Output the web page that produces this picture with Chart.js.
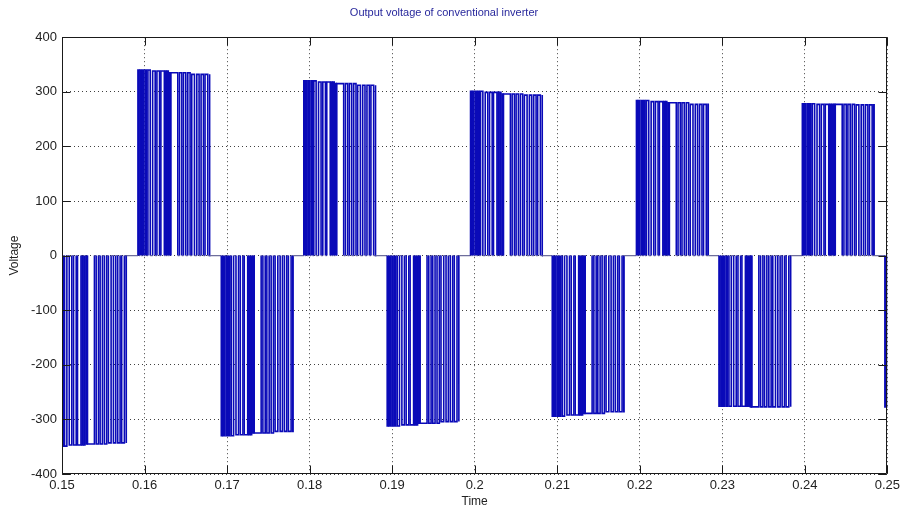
<!DOCTYPE html>
<html>
<head>
<meta charset="utf-8">
<script src="https://cdn.jsdelivr.net/npm/chart.js@4/dist/chart.umd.min.js"></script>
<style>
  html, body { margin: 0; padding: 0; background: #ffffff; }
  canvas { display: block; }
</style>
</head>
<body>
<canvas id="chart" width="904" height="510"></canvas>
<script>
// Start time (s) of each switching half-cycle of the inverter output
const halfStarts = [0.1491, 0.1592, 0.1693, 0.1793, 0.1894, 0.1995, 0.2094, 0.2196, 0.2296, 0.2397, 0.2497];

// DC-link level (V) reached by the pulses in each half-cycle, in four groups of five pulses
const halfLevels = [
  [-349, -347, -345, -343],
  [340, 338, 335, 332],
  [-330, -328, -325, -322],
  [320, 318, 315, 312],
  [-312, -310, -307, -304],
  [301, 299, 296, 294],
  [-294, -292, -289, -286],
  [284, 282, 280, 277],
  [-276, -276, -277, -277],
  [278, 277, 277, 276],
  [-277, -277, -277, -277]
];

// Switching instants (ms after the half-cycle start); the output toggles at each one
const edgeOffsetsMs = [
  0.00, 0.12, 0.24, 0.40, 0.57, 0.72, 0.88, 1.05, 1.21,
  1.49, 1.78, 2.09, 2.30, 2.62, 2.78,
  3.20, 3.32, 3.44, 3.56, 3.68, 3.81, 3.93, 3.99,
  4.83, 5.04, 5.32, 5.52, 5.80, 6.04, 6.32, 6.52, 6.85, 7.13,
  7.41, 7.65, 7.94, 8.13, 8.46, 8.66, 8.70
];

const xTicks = [0.15, 0.16, 0.17, 0.18, 0.19, 0.20, 0.21, 0.22, 0.23, 0.24, 0.25];
const xTickLabels = ['0.15', '0.16', '0.17', '0.18', '0.19', '0.2', '0.21', '0.22', '0.23', '0.24', '0.25'];
const yTicks = [-400, -300, -200, -100, 0, 100, 200, 300, 400];
const yTickLabels = ['-400', '-300', '-200', '-100', '0', '100', '200', '300', '400'];

// Expand one half-cycle into a stepped (vertical-edge) waveform
function halfCyclePoints(start, levels) {
  const pts = [];
  let high = false;
  edgeOffsetsMs.forEach((ms, i) => {
    const t = start + ms / 1000;
    const pulse = Math.floor(i / 2);
    const level = levels[Math.min(levels.length - 1, Math.floor(pulse / 5))];
    const from = high ? level : 0;
    high = !high;
    const to = high ? level : 0;
    pts.push({ x: t, y: from }, { x: t, y: to });
  });
  return pts;
}

const waveform = [];
halfStarts.forEach((s, k) => waveform.push(...halfCyclePoints(s, halfLevels[k])));

const FONT = 'Liberation Sans, Arial, Helvetica, sans-serif';

// Axes box with inward tick marks on all four sides
const axesBox = {
  id: 'axesBox',
  afterDatasetsDraw(chart) {
    const { ctx, chartArea: a, scales: { x, y } } = chart;
    const L = Math.round(a.left) + 0.5, R = Math.round(a.right) - 0.5;
    const T = Math.round(a.top) + 0.5, B = Math.round(a.bottom) - 0.5;
    const tl = 8;
    ctx.save();
    ctx.strokeStyle = '#1a1a1a';
    ctx.lineWidth = 1;
    ctx.beginPath();
    ctx.rect(L, T, R - L, B - T);
    xTicks.forEach(v => {
      const px = Math.round(x.getPixelForValue(v)) + 0.5;
      ctx.moveTo(px, B); ctx.lineTo(px, B - tl);
      ctx.moveTo(px, T); ctx.lineTo(px, T + tl);
    });
    yTicks.forEach(v => {
      const py = Math.round(y.getPixelForValue(v)) + 0.5;
      ctx.moveTo(L, py); ctx.lineTo(L + tl, py);
      ctx.moveTo(R, py); ctx.lineTo(R - tl, py);
    });
    ctx.stroke();
    ctx.restore();
  }
};

// Stretches where the output rests at 0 V are drawn thinner and greyer
const atZero = c => c.p0.parsed.y === 0 && c.p1.parsed.y === 0;

new Chart(document.getElementById('chart'), {
  type: 'scatter',
  data: {
    datasets: [{
      data: waveform,
      showLine: true,
      borderColor: '#0a0ab8',
      borderWidth: 1.6,
      pointRadius: 0,
      tension: 0,
      clip: 0,
      segment: {
        borderColor: c => atZero(c) ? '#6e6e9c' : undefined,
        borderWidth: c => atZero(c) ? 1.2 : undefined
      }
    }]
  },
  options: {
    responsive: false,
    animation: false,
    events: [],
    layout: { padding: { left: 0, right: 16, top: 0, bottom: 0 } },
    plugins: {
      legend: { display: false },
      tooltip: { enabled: false },
      title: {
        display: true,
        text: 'Output voltage of conventional inverter',
        color: '#28289c',
        font: { family: FONT, size: 11, weight: 'normal' },
        padding: { top: 6, bottom: 18 }
      }
    },
    scales: {
      x: {
        type: 'linear',
        min: 0.15,
        max: 0.25,
        afterBuildTicks: s => { s.ticks = xTicks.map(v => ({ value: v })); },
        afterFit: s => { s.height = 36; },
        ticks: {
          callback: (v, i) => xTickLabels[i],
          color: '#222',
          font: { family: FONT, size: 13 },
          padding: 4,
          maxRotation: 0
        },
        grid: {
          color: 'rgba(0,0,0,0.75)',
          lineWidth: 1,
          drawTicks: false
        },
        border: { display: false, dash: [1, 3] },
        title: {
          display: true,
          text: 'Time',
          color: '#222',
          font: { family: FONT, size: 12 },
          padding: { top: 0, bottom: 1 }
        }
      },
      y: {
        type: 'linear',
        min: -400,
        max: 400,
        afterBuildTicks: s => { s.ticks = yTicks.map(v => ({ value: v })); },
        afterFit: s => { s.width = 62; },
        ticks: {
          callback: (v, i) => yTickLabels[i],
          color: '#222',
          font: { family: FONT, size: 13 },
          padding: 5
        },
        grid: {
          color: 'rgba(0,0,0,0.75)',
          lineWidth: 1,
          drawTicks: false
        },
        border: { display: false, dash: [1, 3] },
        title: {
          display: true,
          text: 'Voltage',
          color: '#222',
          font: { family: FONT, size: 12 },
          padding: { top: 7, bottom: 0 }
        }
      }
    }
  },
  plugins: [axesBox]
});
</script>
</body>
</html>
